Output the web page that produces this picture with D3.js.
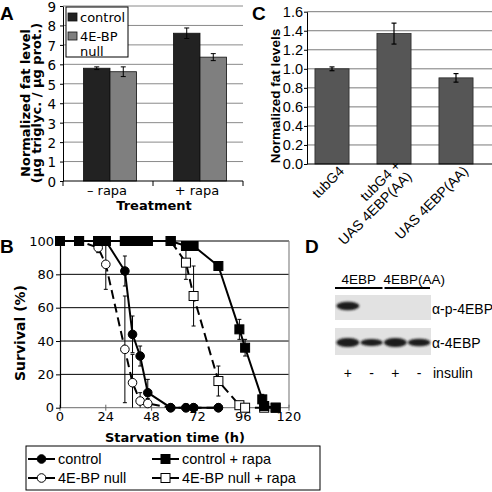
<!DOCTYPE html>
<html><head><meta charset="utf-8">
<script src="https://cdn.jsdelivr.net/npm/d3@7"></script>
<style>body{margin:0;background:#fff}svg{display:block}</style>
</head><body>
<script>
// ---------- Panel A data ----------
const aGroups = ["– rapa", "+ rapa"];
const aSeries = ["control", "4E-BP null"];
const aControl = [5.8, 7.6];
const aControlErr = [0.07, 0.27];
const aNull = [5.62, 6.37];
const aNullErr = [0.25, 0.18];
const aTicks = [0, 1, 2, 3, 4, 5, 6, 7, 8, 9];

// ---------- Panel C data ----------
const cCategories = [["tubG4"], ["tubG4 +", "UAS 4EBP(AA)"], ["UAS 4EBP(AA)"]];
const cValues = [1.0, 1.37, 0.905];
const cErr = [0.02, 0.11, 0.045];
const cTicks = [0, 0.2, 0.4, 0.6, 0.8, 1.0, 1.2, 1.4, 1.6];

// ---------- Panel B data ----------
const bTicksX = [0, 24, 48, 72, 96, 120];
const bTicksY = [0, 20, 40, 60, 80, 100];
const bControlT = [0, 10, 20, 24, 34, 38, 42, 46, 58, 66, 70, 83];
const bControlV = [100, 100, 100, 100, 82, 44, 31, 9, 0, 0, 0, 0];
const bControlE = [0, 0, 0, 0, 9, 11, 6, 8, 0, 0, 0, 0];
const bNullT = [0, 10, 20, 24, 34, 38, 42, 46, 58, 66, 70, 83];
const bNullV = [100, 100, 96, 86, 35, 15, 4, 2.5, 0, 0, 0, 0];
const bNullE = [0, 0, 3, 15, 32, 17, 5, 3, 0, 0, 0, 0];
const bRapaT = [0, 10, 20, 24, 34, 38, 42, 46, 58, 66, 70, 83, 94, 97, 106, 107, 113];
const bRapaV = [100, 100, 100, 100, 100, 100, 100, 100, 100, 97, 97, 85, 47, 36, 5, 1, 0];
const bRapaE = [0, 0, 0, 0, 0, 0, 0, 0, 0, 0, 0, 0, 6, 5, 3, 0, 0];
const bNullRapaT = [0, 10, 20, 24, 34, 38, 42, 46, 58, 66, 70, 83, 94, 97, 107, 113];
const bNullRapaV = [100, 100, 100, 100, 100, 100, 100, 100, 100, 87, 67, 16, 1.5, 0, 0, 0];
const bNullRapaE = [0, 0, 0, 0, 0, 0, 0, 0, 0, 10, 18, 9, 2, 0, 0, 0];
const bLegend = ["control", "control + rapa", "4E-BP null", "4E-BP null + rapa"];

// ---------- Panel D data ----------
const dGroups = ["4EBP", "4EBP(AA)"];
const dLanes = ["+", "-", "+", "-"];
const dPhospho = [1, 0, 0, 0];
const dTotal = [1, 0.8, 1, 0.85];
const dRows = ["α-p-4EBP", "α-4EBP"];

const svg = d3.select("body").append("svg").attr("width", 492).attr("height", 492);
const F = "'DejaVu Sans', Verdana, sans-serif";
const H = "'Liberation Sans', Arial, sans-serif";

// panel letters
[["A", 0, 20], ["C", 252, 20], ["B", 0, 253], ["D", 305, 253]].forEach(([t, x, y]) =>
  svg.append("text").attr("x", x).attr("y", y).text(t)
    .attr("font-family", H).attr("font-weight", "bold").attr("font-size", 19));

// ================= Panel A =================
(function () {
  const g = svg.append("g");
  const L = 63, R = 243, T = 6, B = 181;
  const y = d3.scaleLinear().domain([0, 9]).range([B, T]);
  const x0 = d3.scaleBand().domain(aGroups).range([65, 245]).paddingInner(0.41).paddingOuter(0.205);
  const x1 = d3.scaleBand().domain(aSeries).range([0, x0.bandwidth()]);
  const colors = { "control": "#222", "4E-BP null": "#7f7f7f" };
  g.selectAll(".grid").data(aTicks.filter(d => d > 0)).join("line")
    .attr("x1", L).attr("x2", R).attr("y1", d => y(d)).attr("y2", d => y(d))
    .attr("stroke", "#8a8a8a").attr("stroke-width", 1);
  const rows = aGroups.map((gname, i) => [
    { g: gname, s: "control", v: aControl[i], e: aControlErr[i] },
    { g: gname, s: "4E-BP null", v: aNull[i], e: aNullErr[i] }]).flat();
  g.selectAll(".bar").data(rows).join("rect")
    .attr("x", d => x0(d.g) + x1(d.s)).attr("width", x1.bandwidth())
    .attr("y", d => y(d.v)).attr("height", d => B - y(d.v))
    .attr("fill", d => colors[d.s]).attr("stroke", "#111").attr("stroke-width", 0.8);
  const eb = g.selectAll(".eb").data(rows).join("g");
  eb.append("line").attr("x1", d => x0(d.g) + x1(d.s) + x1.bandwidth() / 2)
    .attr("x2", d => x0(d.g) + x1(d.s) + x1.bandwidth() / 2)
    .attr("y1", d => y(d.v - d.e)).attr("y2", d => y(d.v + d.e)).attr("stroke", "#000");
  [1, -1].forEach(sg => eb.append("line")
    .attr("x1", d => x0(d.g) + x1(d.s) + x1.bandwidth() / 2 - 2.5)
    .attr("x2", d => x0(d.g) + x1(d.s) + x1.bandwidth() / 2 + 2.5)
    .attr("y1", d => y(d.v + sg * d.e)).attr("y2", d => y(d.v + sg * d.e)).attr("stroke", "#000"));
  const ay = g.append("g").attr("transform", `translate(${L},0)`)
    .call(d3.axisLeft(y).tickValues(aTicks).tickSize(3).tickSizeOuter(0).tickFormat(d3.format("d")));
  ay.select(".domain").attr("stroke", "#000");
  ay.selectAll("text").attr("font-family", F).attr("font-size", 13.5).attr("fill", "#000").attr("x", -7).attr("dy", "0.4em");
  g.append("line").attr("x1", L).attr("x2", R).attr("y1", B).attr("y2", B).attr("stroke", "#000");
  [L, (L + R) / 2, R].forEach(xx => g.append("line").attr("x1", xx).attr("x2", xx)
    .attr("y1", B).attr("y2", B + 5).attr("stroke", "#000"));
  g.selectAll(".xl").data(aGroups).join("text")
    .attr("x", d => x0(d) + x0.bandwidth() / 2 - 3).attr("y", 195).attr("text-anchor", "middle")
    .attr("font-family", F).attr("font-size", 13).text(d => d);
  g.append("text").attr("x", 154).attr("y", 210).attr("text-anchor", "middle")
    .attr("font-family", F).attr("font-weight", "bold").attr("font-size", 13).text("Treatment");
  const yl = g.append("text").attr("transform", "translate(30,103) rotate(-90)")
    .attr("text-anchor", "middle").attr("font-family", F).attr("font-weight", "bold").attr("font-size", 13);
  yl.append("tspan").attr("x", 0).attr("dy", 0).text("Normalized fat level");
  yl.append("tspan").attr("x", 0).attr("dy", 11).text("(µg triglyc. / µg prot.)");
  // legend
  const lg = g.append("g");
  lg.append("rect").attr("x", 66).attr("y", 7).attr("width", 62).attr("height", 50)
    .attr("fill", "#fff").attr("stroke", "#000");
  aSeries.forEach((s, i) => {
    lg.append("rect").attr("x", 68).attr("y", 13 + i * 19).attr("width", 9).attr("height", 8)
      .attr("fill", colors[s]).attr("stroke", "#111").attr("stroke-width", 0.8);
  });
  lg.append("text").attr("x", 80).attr("y", 22).attr("font-family", F).attr("font-size", 13).text(aSeries[0]);
  const parts = aSeries[1].split(" ");
  lg.append("text").attr("x", 80).attr("y", 41).attr("font-family", F).attr("font-size", 13).text(parts[0]);
  lg.append("text").attr("x", 80).attr("y", 56).attr("font-family", F).attr("font-size", 13).text(parts[1]);
})();

// ================= Panel C =================
(function () {
  const g = svg.append("g");
  const L = 307, R = 492, T = 11.7, B = 164;
  const y = d3.scaleLinear().domain([0, 1.6]).range([B, T]);
  const x = d3.scaleBand().domain(d3.range(cValues.length)).range([301, 487]).paddingInner(0.45).paddingOuter(0.225);
  g.selectAll(".grid").data(cTicks.filter(d => d > 0)).join("line")
    .attr("x1", L).attr("x2", R).attr("y1", d => y(d)).attr("y2", d => y(d))
    .attr("stroke", "#7a7a7a");
  g.selectAll(".bar").data(cValues).join("rect")
    .attr("x", (d, i) => x(i)).attr("width", x.bandwidth())
    .attr("y", d => y(d)).attr("height", d => B - y(d))
    .attr("fill", "#565656").attr("stroke", "#2a2a2a").attr("stroke-width", 0.8);
  cValues.forEach((v, i) => {
    const cx = x(i) + x.bandwidth() / 2;
    g.append("line").attr("x1", cx).attr("x2", cx).attr("y1", y(v - cErr[i])).attr("y2", y(v + cErr[i])).attr("stroke", "#000").attr("stroke-width", 1.2);
    [1, -1].forEach(sg => g.append("line").attr("x1", cx - 2.5).attr("x2", cx + 2.5)
      .attr("y1", y(v + sg * cErr[i])).attr("y2", y(v + sg * cErr[i])).attr("stroke", "#000").attr("stroke-width", 1.2));
  });
  const ay = g.append("g").attr("transform", `translate(${L},0)`)
    .call(d3.axisLeft(y).tickValues(cTicks).tickSize(3).tickSizeOuter(0).tickFormat(d3.format(".1f")));
  ay.select(".domain").attr("stroke", "#000");
  ay.selectAll("text").attr("font-family", H).attr("font-size", 14.5).attr("fill", "#000").attr("x", -4);
  g.append("line").attr("x1", L).attr("x2", R).attr("y1", B).attr("y2", B).attr("stroke", "#000");
  cCategories.forEach((lines, i) => {
    const cx = x(i) + x.bandwidth() / 2;
    const t = g.append("text").attr("transform", `translate(${cx + 13},${172}) rotate(-45)`)
      .attr("text-anchor", "end").attr("font-family", H).attr("font-size", 14);
    lines.forEach((ln, j) => t.append("tspan").attr("x", 0)
      .attr("dy", j === 0 ? (-(lines.length - 1) * 0.55) + "em" : "1.1em").text(ln));
  });
  g.append("text").attr("transform", "translate(280,96) rotate(-90)").attr("text-anchor", "middle")
    .attr("font-family", H).attr("font-weight", "bold").attr("font-size", 13.5).text("Normalized fat levels");
})();

// ================= Panel B =================
(function () {
  const g = svg.append("g");
  const L = 60, R = 289, T = 241, B = 407.7;
  const x = d3.scaleLinear().domain([0, 120]).range([L, R]);
  const y = d3.scaleLinear().domain([0, 100]).range([B, T]);
  g.selectAll(".grid").data(bTicksY.filter(d => d > 0)).join("line")
    .attr("x1", L).attr("x2", R).attr("y1", d => y(d)).attr("y2", d => y(d)).attr("stroke", "#000");
  g.append("line").attr("x1", L).attr("x2", R).attr("y1", B).attr("y2", B).attr("stroke", "#888").attr("stroke-width", 1.2);
  g.append("line").attr("x1", R).attr("x2", R).attr("y1", T).attr("y2", B).attr("stroke", "#888").attr("stroke-width", 1.2);
  bTicksX.forEach(t => g.append("line").attr("x1", x(t)).attr("x2", x(t)).attr("y1", B - 3).attr("y2", B + 3).attr("stroke", "#666"));
  const ay = g.append("g").attr("transform", `translate(${L},0)`)
    .call(d3.axisLeft(y).tickValues(bTicksY).tickSize(4).tickSizeOuter(0));
  ay.select(".domain").attr("stroke", "#000").attr("stroke-width", 1.2);
  ay.selectAll("text").attr("font-family", F).attr("font-size", 13).attr("fill", "#000").attr("x", -6);
  g.selectAll(".xt").data(bTicksX).join("text").attr("x", d => x(d)).attr("y", 421)
    .attr("text-anchor", "middle").attr("font-family", F).attr("font-size", 13).text(d => d);
  g.append("text").attr("x", 175).attr("y", 442).attr("text-anchor", "middle")
    .attr("font-family", F).attr("font-weight", "bold").attr("font-size", 13).text("Starvation time (h)");
  g.append("text").attr("transform", "translate(25,333) rotate(-90)").attr("text-anchor", "middle")
    .attr("font-family", F).attr("font-weight", "bold").attr("font-size", 14).text("Survival (%)");

  const series = [
    { T: bNullRapaT, V: bNullRapaV, E: bNullRapaE, dash: "9,5", shape: "square", fill: "#fff" },
    { T: bNullT, V: bNullV, E: bNullE, dash: "9,5", shape: "circle", fill: "#fff" },
    { T: bControlT, V: bControlV, E: bControlE, dash: null, shape: "circle", fill: "#000" },
    { T: bRapaT, V: bRapaV, E: bRapaE, dash: null, shape: "square", fill: "#000" }];
  const line = d3.line().x(d => x(d[0])).y(d => y(d[1]));
  series.forEach(s => {
    const pts = s.T.map((t, i) => [t, s.V[i], s.E[i]]);
    g.append("path").attr("d", line(pts)).attr("fill", "none").attr("stroke", "#000")
      .attr("stroke-width", 2).attr("stroke-dasharray", s.dash);
  });
  series.forEach(s => {
    const pts = s.T.map((t, i) => [t, s.V[i], s.E[i]]).filter(p => p[2] > 0);
    pts.forEach(p => {
      const cx = x(p[0]);
      g.append("line").attr("x1", cx).attr("x2", cx).attr("y1", y(Math.max(p[1] - p[2], 0))).attr("y2", y(Math.min(p[1] + p[2], 100))).attr("stroke", "#000");
      [1, -1].forEach(sg => {
        const v = p[1] + sg * p[2];
        if (v <= 100 && v >= 0) g.append("line").attr("x1", cx - 2).attr("x2", cx + 2).attr("y1", y(v)).attr("y2", y(v)).attr("stroke", "#000");
      });
    });
  });
  series.forEach(s => {
    const pts = s.T.map((t, i) => [t, s.V[i]]);
    if (s.shape === "circle") {
      g.selectAll(null).data(pts).join("circle").attr("cx", d => x(d[0])).attr("cy", d => y(d[1]))
        .attr("r", 4.3).attr("fill", s.fill).attr("stroke", "#000").attr("stroke-width", 1);
    } else {
      g.selectAll(null).data(pts).join("rect").attr("x", d => x(d[0]) - 4.5).attr("y", d => y(d[1]) - 4.5)
        .attr("width", 9).attr("height", 9).attr("fill", s.fill).attr("stroke", "#000").attr("stroke-width", 1);
    }
  });
  // legend
  const lg = g.append("g");
  lg.append("rect").attr("x", 26).attr("y", 446).attr("width", 294).attr("height", 44).attr("fill", "#fff").attr("stroke", "#000");
  const legMeta = [
    { s: series[2], col: 0, row: 0 }, { s: series[3], col: 1, row: 0 },
    { s: series[1], col: 0, row: 1 }, { s: series[0], col: 1, row: 1 }];
  const colX = [28, 152], rowY = [459, 478];
  legMeta.forEach((m, i) => {
    const x0 = colX[m.col], yy = rowY[m.row];
    lg.append("line").attr("x1", x0).attr("x2", x0 + 27).attr("y1", yy).attr("y2", yy).attr("stroke", "#000").attr("stroke-width", 2);
    if (m.s.shape === "circle") lg.append("circle").attr("cx", x0 + 13.5).attr("cy", yy).attr("r", 4.3).attr("fill", m.s.fill).attr("stroke", "#000");
    else lg.append("rect").attr("x", x0 + 9).attr("y", yy - 4.5).attr("width", 9).attr("height", 9).attr("fill", m.s.fill).attr("stroke", "#000");
    lg.append("text").attr("x", x0 + 30).attr("y", yy + 5).attr("font-family", H).attr("font-size", 14.5).text(bLegend[i]);
  });
})();

// ================= Panel D =================
(function () {
  const g = svg.append("g");
  const defs = svg.append("defs");
  const f = defs.append("filter").attr("id", "blur").attr("x", "-50%").attr("y", "-50%").attr("width", "200%").attr("height", "200%");
  f.append("feGaussianBlur").attr("stdDeviation", 1.3);
  const lane = d3.scaleBand().domain(d3.range(dLanes.length)).range([336, 431]);
  const groupOfLane = [0, 0, 1, 1];
  const dx = [0, 8];
  dGroups.forEach((gn, gi) => {
    const lanes = d3.range(dLanes.length).filter(i => groupOfLane[i] === gi);
    const x1 = lane(lanes[0]) - 1, x2 = lane(lanes[lanes.length - 1]) + lane.bandwidth() - 1;
    g.append("line").attr("x1", gi ? x1 + 2 : x1).attr("x2", x2).attr("y1", 288).attr("y2", 288).attr("stroke", "#000").attr("stroke-width", 2);
    g.append("text").attr("x", (x1 + x2) / 2 + dx[gi]).attr("y", 284).attr("text-anchor", "middle")
      .attr("font-family", H).attr("font-size", 13.5).text(gn);
  });
  const blots = [{ y: 295, h: 25, vals: dPhospho, by: 306, ry: 4.2, label: dRows[0], ly: 314 },
                 { y: 328, h: 27, vals: dTotal, by: 342.5, ry: 4.5, label: dRows[1], ly: 348 }];
  blots.forEach(b => {
    g.append("rect").attr("x", 335).attr("y", b.y).attr("width", 96).attr("height", b.h).attr("fill", "#e2e2e2");
    b.vals.forEach((v, i) => {
      if (v <= 0) return;
      g.append("ellipse").attr("cx", lane(i) + lane.bandwidth() / 2).attr("cy", b.by)
        .attr("rx", 11.5 * (0.85 + 0.15 * v)).attr("ry", b.ry * v)
        .attr("fill", "#1a1a1a").attr("filter", "url(#blur)");
    });
    g.append("text").attr("x", 432).attr("y", b.ly).attr("font-family", H).attr("font-size", 14).text(b.label);
  });
  dLanes.forEach((s, i) => g.append("text").attr("x", lane(i) + lane.bandwidth() / 2).attr("y", 378)
    .attr("text-anchor", "middle").attr("font-family", H).attr("font-size", 14).text(s));
  g.append("text").attr("x", 433).attr("y", 378).attr("font-family", H).attr("font-size", 14).text("insulin");
})();
</script>
</body></html>
